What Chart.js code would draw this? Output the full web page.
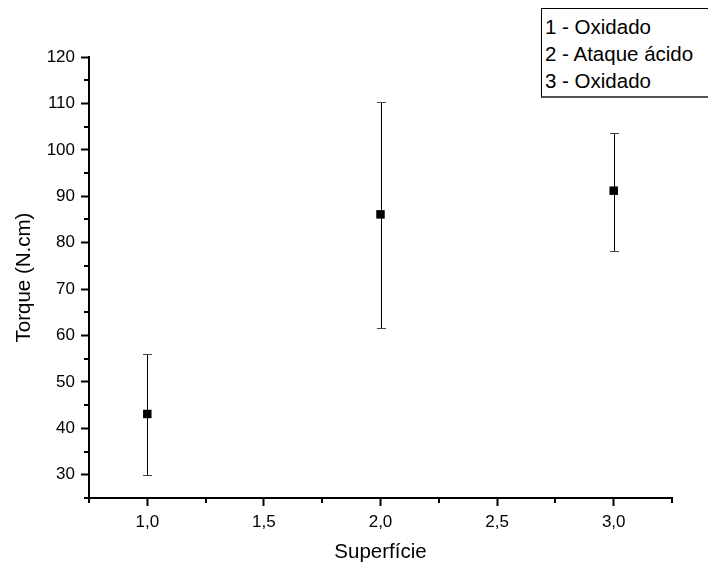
<!DOCTYPE html>
<html>
<head>
<meta charset="utf-8">
<script src="https://cdn.jsdelivr.net/npm/chart.js@4.4.0/dist/chart.umd.min.js"></script>
<style>
  html, body { margin: 0; padding: 0; background: #fff; overflow: hidden; }
  #wrap { position: relative; width: 708px; height: 570px; }
  #legenda {
    position: absolute; left: 541px; top: 8px; width: 170px;
    border: 1px solid #000; border-bottom: 2px solid #555;
    padding: 4px 0 2px 3px; box-sizing: content-box;
    font-family: "Liberation Sans", Arial, sans-serif; font-size: 20.5px;
    line-height: 27px; color: #000; background: #fff;
  }
</style>
</head>
<body>
<div id="wrap">
  <canvas id="grafico" width="708" height="570"></canvas>
  <div id="legenda">
    <div>1 - Oxidado</div>
    <div>2 - Ataque ácido</div>
    <div>3 - Oxidado</div>
  </div>
</div>
<script>
// superfícies e torque médio com desvio
let superficie = [1, 2, 3];
let torque = [43.1, 86.1, 91.2];
let erroSup = [13.0, 24.2, 12.4];   // até o topo da barra
let erroInf = [13.1, 24.4, 12.9];   // até a base da barra

let fonte = '"Liberation Sans", Arial, sans-serif';

function virgula(v, casas) {
    return v.toFixed(casas).replace('.', ',');
}

// barras de erro desenhadas sobre os pontos
const barrasErro = {
    id: 'barrasErro',
    afterDatasetsDraw(chart) {
        let ctx = chart.ctx;
        let sx = chart.scales.x, sy = chart.scales.y;
        ctx.save();
        ctx.strokeStyle = '#000';
        ctx.lineWidth = 1;
        for (let j = 0; j < superficie.length; j++) {
            let px = Math.round(sx.getPixelForValue(superficie[j])) + 0.5;
            let top = Math.round(sy.getPixelForValue(torque[j] + erroSup[j])) + 0.5;
            let bot = Math.round(sy.getPixelForValue(torque[j] - erroInf[j])) + 0.5;
            ctx.beginPath();
            ctx.moveTo(px, top); ctx.lineTo(px, bot);
            ctx.stroke();
            ctx.strokeStyle = '#444';
            ctx.beginPath();
            ctx.moveTo(px - 4.5, top); ctx.lineTo(px + 4.5, top);
            ctx.moveTo(px - 4.5, bot); ctx.lineTo(px + 4.5, bot);
            ctx.stroke();
            ctx.strokeStyle = '#000';
        }
        ctx.restore();
    }
};

// ticks menores (mais curtos) nos eixos
const ticksMenores = {
    id: 'ticksMenores',
    afterDraw(chart) {
        let ctx = chart.ctx;
        let sx = chart.scales.x, sy = chart.scales.y;
        let area = chart.chartArea;
        ctx.save();
        ctx.strokeStyle = '#000';
        ctx.lineWidth = 2;
        ctx.beginPath();
        sx.ticks.forEach(t => {
            if (Math.round(t.value * 100) % 50 !== 0) {
                let px = Math.round(sx.getPixelForValue(t.value));
                ctx.moveTo(px, area.bottom); ctx.lineTo(px, area.bottom + 5);
            }
        });
        sy.ticks.forEach(t => {
            if (Math.round(t.value) % 10 !== 0) {
                let py = Math.round(sy.getPixelForValue(t.value));
                ctx.moveTo(area.left, py); ctx.lineTo(area.left - 5, py);
            }
        });
        ctx.stroke();
        ctx.restore();
    }
};

new Chart(document.getElementById('grafico'), {
    type: 'scatter',
    data: {
        datasets: [{
            data: superficie.map((s, j) => ({x: s, y: torque[j]})),
            pointStyle: 'rect',
            pointRadius: 6,
            pointBackgroundColor: '#000',
            pointBorderColor: '#000',
            pointBorderWidth: 0
        }]
    },
    options: {
        responsive: false,
        animation: false,
        layout: { padding: { top: 57, right: 36, bottom: 0, left: 0 } },
        plugins: { legend: { display: false }, tooltip: { enabled: false } },
        scales: {
            x: {
                type: 'linear',
                min: 0.75, max: 3.25,
                afterFit(s) { s.height = 72; },
                border: { color: '#000', width: 2 },
                grid: {
                    drawOnChartArea: false,
                    tickLength: 8,
                    tickWidth: 2,
                    tickColor: ctx => (Math.round(ctx.tick.value * 100) % 50 === 0 ? '#000' : 'rgba(0,0,0,0)')
                },
                ticks: {
                    stepSize: 0.25,
                    autoSkip: false,
                    maxRotation: 0,
                    padding: 6,
                    color: '#000',
                    font: { family: fonte, size: 17 },
                    callback: v => (Math.round(v * 100) % 50 === 0 ? virgula(v, 1) : '')
                },
                title: {
                    display: true,
                    text: 'Superfície',
                    color: '#000',
                    font: { family: fonte, size: 20.5 },
                    padding: { top: 0, bottom: 5 }
                }
            },
            y: {
                min: 25, max: 120,
                afterFit(s) { s.width = 89; },
                border: { color: '#000', width: 2 },
                grid: {
                    drawOnChartArea: false,
                    tickLength: 8,
                    tickWidth: 2,
                    tickColor: ctx => (Math.round(ctx.tick.value) % 10 === 0 ? '#000' : 'rgba(0,0,0,0)')
                },
                ticks: {
                    stepSize: 5,
                    autoSkip: false,
                    padding: 6,
                    color: '#000',
                    font: { family: fonte, size: 17 },
                    callback: v => (Math.round(v) % 10 === 0 ? String(v) : '')
                },
                title: {
                    display: true,
                    text: 'Torque (N.cm)',
                    color: '#000',
                    font: { family: fonte, size: 20.5 },
                    padding: { top: 12, bottom: 0 }
                }
            }
        }
    },
    plugins: [barrasErro, ticksMenores]
});
</script>
</body>
</html>
